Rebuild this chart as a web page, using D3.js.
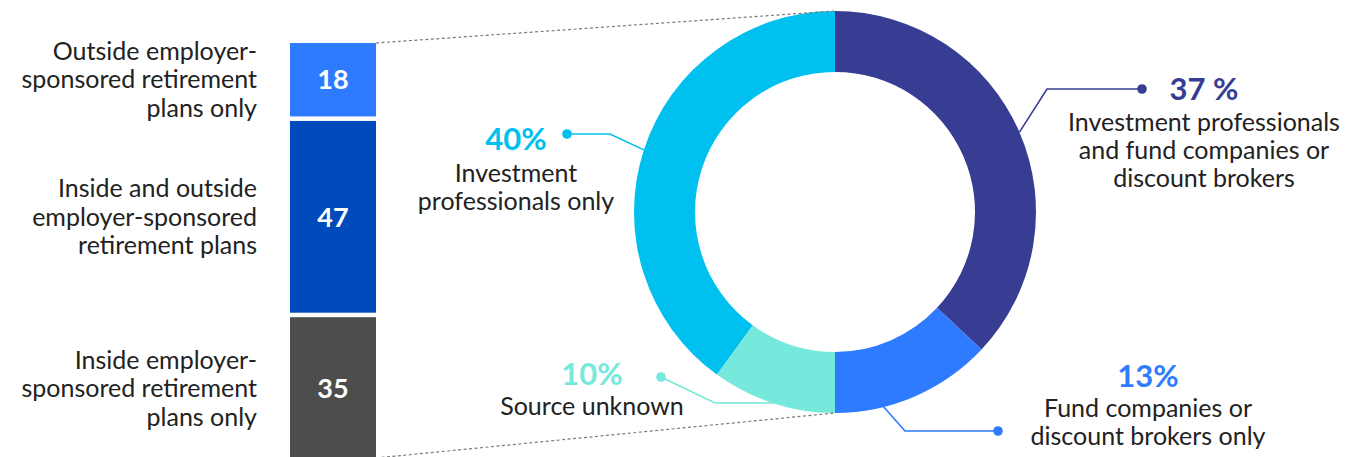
<!DOCTYPE html>
<html>
<head>
<meta charset="utf-8">
<script src="https://cdn.jsdelivr.net/npm/d3@7"></script>
<style>
  html, body { margin: 0; padding: 0; background: #fff; }
  svg { display: block; }
  text { font-family: Lato, "Noto Sans", sans-serif; }
</style>
</head>
<body>
<svg id="chart" width="1349" height="457"></svg>
<script>
// Where the money is held (stacked bar, percent)
const barCategories = [
  ["Outside employer-", "sponsored retirement", "plans only"],
  ["Inside and outside", "employer-sponsored", "retirement plans"],
  ["Inside employer-", "sponsored retirement", "plans only"]
];
const barValues = [18, 47, 35];
const barColors = ["#2f7bff", "#004bbb", "#4d4d4d"];

// Who it is bought through (donut, percent)
const sourceLabels = [
  ["Investment professionals", "and fund companies or", "discount brokers"],
  ["Fund companies or", "discount brokers only"],
  ["Source unknown"],
  ["Investment", "professionals only"]
];
const sourceValues = [37, 13, 10, 40];
const sourceValueText = ["37 %", "13%", "10%", "40%"];
const sourceColors = ["#373d92", "#2f7bff", "#76e8dc", "#00c0ef"];

const svg = d3.select("#chart");

// ---------- stacked bar ----------
const barX0 = 290, barW = 86, barTop = 43, barBottom = 460, barGap = 4.5;
const barScale = d3.scaleLinear()
  .domain([0, d3.sum(barValues)])
  .range([0, barBottom - barTop - barGap * (barValues.length - 1)]);

let acc = 0;
const barSegs = barValues.map((v, i) => {
  const y0 = barTop + barScale(acc) + barGap * i;
  const h = barScale(v);
  acc += v;
  return { v, i, y0, h };
});

const bars = svg.append("g");
bars.selectAll("rect").data(barSegs).join("rect")
  .attr("x", barX0).attr("y", d => d.y0)
  .attr("width", barW).attr("height", d => d.h)
  .attr("fill", d => barColors[d.i]);

bars.selectAll("text.val").data(barSegs).join("text")
  .attr("class", "val")
  .attr("x", barX0 + barW / 2)
  .attr("y", d => d.y0 + d.h / 2)
  .attr("dy", "0.36em")
  .attr("text-anchor", "middle")
  .attr("fill", "#fff")
  .attr("font-weight", 700)
  .attr("font-size", 27)
  .text(d => d.v);

const lineH = 28.5;
bars.selectAll("text.cat").data(barSegs).join("text")
  .attr("class", "cat")
  .attr("text-anchor", "end")
  .attr("fill", "#222")
  .attr("font-size", 25)
  .each(function(d) {
    const lines = barCategories[d.i];
    const mid = d.y0 + d.h / 2;
    const first = mid - (lines.length - 1) * lineH / 2;
    d3.select(this).selectAll("tspan").data(lines).join("tspan")
      .attr("x", 257)
      .attr("y", (l, k) => first + k * lineH)
      .attr("dy", "0.35em")
      .text(l => l);
  });

// ---------- donut ----------
const cx = 835, cy = 212, rOuter = 201, rInner = 140;
const pie = d3.pie().sort(null).value(d => d)(sourceValues);
const arc = d3.arc().innerRadius(rInner).outerRadius(rOuter);

const donut = svg.append("g").attr("transform", `translate(${cx},${cy})`);

// dashed connectors from the bar to the donut
const barEnd = barSegs[barSegs.length - 1];
svg.append("g")
  .attr("stroke", "#7a7a7a").attr("stroke-width", 1.2)
  .attr("stroke-dasharray", "3,2.5").attr("fill", "none")
  .selectAll("line")
  .data([[barX0 + barW, barTop, cx, cy - rOuter],
         [barX0 + barW, barEnd.y0 + barEnd.h - 2, cx, cy + rOuter]])
  .join("line")
  .attr("x1", d => d[0]).attr("y1", d => d[1])
  .attr("x2", d => d[2]).attr("y2", d => d[3]);

donut.selectAll("path").data(pie).join("path")
  .attr("d", arc)
  .attr("fill", (d, i) => sourceColors[i]);

// leader lines: anchor on the slice edge, elbow, then dot by the label
const leaders = [
  { t: 0.5, elbow: [1047, 89], dot: [1142, 89] },
  { t: 0.7, elbow: [905, 431], dot: [998, 431] },
  { t: 0.5, elbow: [715, 403], dot: [661, 377], flat: true },
  { t: 0.5, elbow: [610, 134], dot: [567, 134] }
];

const labelPos = [
  { x: 1204, y: 100, gap: 31 },
  { x: 1148, y: 387, gap: 30 },
  { x: 592, y: 385, gap: 30 },
  { x: 516, y: 150, gap: 32 }
];

const ann = svg.append("g");
pie.forEach((p, i) => {
  const L = leaders[i];
  const a = p.startAngle + L.t * (p.endAngle - p.startAngle);
  const ax = cx + rOuter * Math.sin(a);
  const ay = cy - rOuter * Math.cos(a);
  // the flat leader runs level with its elbow into the slice
  const pts = L.flat ? [[ax, L.elbow[1]], L.elbow, L.dot] : [[ax, ay], L.elbow, L.dot];
  ann.append("path")
    .attr("d", d3.line()(pts))
    .attr("fill", "none")
    .attr("stroke", sourceColors[i])
    .attr("stroke-width", 1.6);
  ann.append("circle")
    .attr("cx", L.dot[0]).attr("cy", L.dot[1]).attr("r", 4.8)
    .attr("fill", sourceColors[i]);

  const lp = labelPos[i];
  ann.append("text")
    .attr("x", lp.x).attr("y", lp.y)
    .attr("text-anchor", "middle")
    .attr("fill", sourceColors[i])
    .attr("font-weight", 700)
    .attr("font-size", 31)
    .text(sourceValueText[i]);
  const t = ann.append("text")
    .attr("text-anchor", "middle")
    .attr("fill", "#222")
    .attr("font-size", 25);
  sourceLabels[i].forEach((line, k) => {
    t.append("tspan")
      .attr("x", lp.x)
      .attr("y", lp.y + lp.gap + k * 28)
      .text(line);
  });
});
</script>
</body>
</html>
